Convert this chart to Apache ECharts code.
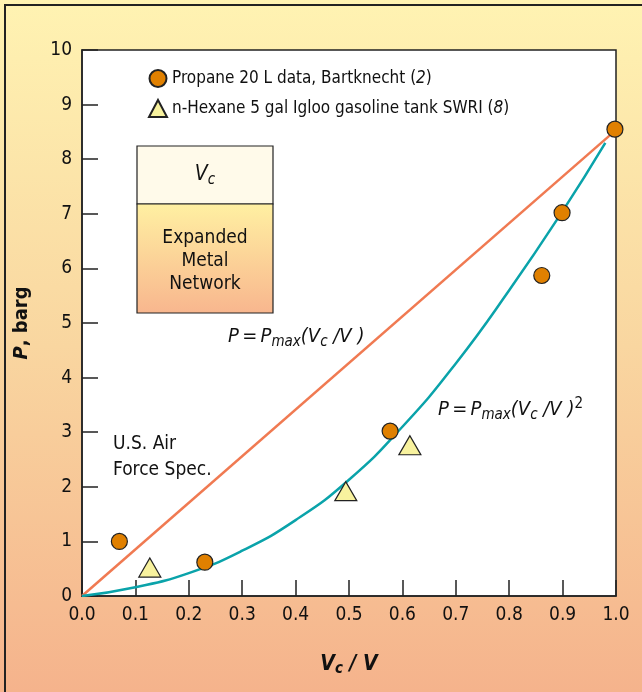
<!DOCTYPE html>
<html>
<head>
<meta charset="utf-8">
<script src="https://cdn.jsdelivr.net/npm/echarts@6/dist/echarts.min.js"></script>
<style>
    html, body { margin: 0; padding: 0; }
    #chart { width: 642px; height: 692px; }
</style>
</head>
<body>
<div id="chart"></div>
<script>
// tick labels
var xTicks = ['0.0', '0.1', '0.2', '0.3', '0.4', '0.5', '0.6', '0.7', '0.8', '0.9', '1.0'];
var yTicks = [0, 1, 2, 3, 4, 5, 6, 7, 8, 9, 10];

// Propane 20 L data, Bartknecht
var propane = [[0.07, 1.0], [0.23, 0.62], [0.577, 3.02], [0.861, 5.87], [0.899, 7.02], [0.998, 8.55]];
// n-Hexane 5 gal Igloo gasoline tank SWRI
var hexane = [[0.127, 0.52], [0.494, 1.92], [0.614, 2.76]];
// P = Pmax (Vc/V)
var linearLine = [[0, 0], [0.99, 8.45]];
// P = Pmax (Vc/V)^2, drawn curve
var squareCurve = [[0, 0], [0.1, 0.16], [0.2, 0.42], [0.3, 0.83], [0.4, 1.39], [0.5, 2.13],
    [0.6, 3.1], [0.7, 4.26], [0.8, 5.6], [0.9, 7.05], [0.98, 8.3]];

var font = "'Liberation Sans Narrow', 'DejaVu Sans Condensed', 'Roboto', sans-serif";

var chart = echarts.init(document.getElementById('chart'));

var option = {
    animation: false,
    backgroundColor: {
        type: 'linear', x: 0, y: 0, x2: 0, y2: 1,
        colorStops: [
            {offset: 0, color: '#fff3b2'},
            {offset: 0.5, color: '#f9d6a0'},
            {offset: 1, color: '#f5b38c'}
        ]
    },
    textStyle: {fontFamily: font},
    grid: {
        left: 82, right: 26, top: 50, bottom: 96,
        show: true,
        backgroundColor: '#fff',
        borderColor: '#222',
        borderWidth: 1.5
    },
    legend: {
        orient: 'vertical',
        left: 143,
        top: 64,
        itemGap: 11,
        itemWidth: 18,
        itemHeight: 17,
        textStyle: {
            fontFamily: font,
            fontSize: 17,
            color: '#111',
            rich: {
                a: {fontFamily: font, fontSize: 17, color: '#111'},
                i: {fontFamily: font, fontSize: 17, color: '#111', fontStyle: 'italic'}
            }
        },
        formatter: function (name) {
            if (name === 'propane') {
                return '{a|Propane 20 L data, Bartknecht (}{i|2}{a|)}';
            }
            return '{a|n-Hexane 5 gal Igloo gasoline tank SWRI (}{i|8}{a|)}';
        },
        data: ['propane', 'hexane']
    },
    xAxis: {
        type: 'value',
        min: 0,
        max: 1,
        interval: 0.1,
        name: '{b|V}{s|c}{b| / V}',
        nameLocation: 'middle',
        nameGap: 56,
        nameTextStyle: {
            rich: {
                b: {fontFamily: font, fontSize: 21, fontWeight: 'bold', fontStyle: 'italic', color: '#111'},
                s: {fontFamily: font, fontSize: 15, fontWeight: 'bold', fontStyle: 'italic', color: '#111', padding: [10, 0, 0, 0]}
            }
        },
        axisLine: {show: true, lineStyle: {color: '#222', width: 1.5}},
        axisTick: {show: true, inside: true, length: 16, lineStyle: {color: '#222', width: 1.5}},
        axisLabel: {
            fontFamily: font, fontSize: 19, color: '#111', margin: 10,
            formatter: function (v) { return xTicks[Math.round(v * 10)]; }
        },
        splitLine: {show: false}
    },
    yAxis: {
        type: 'value',
        min: 0,
        max: 10,
        interval: 1,
        name: '{b|P}{n|, barg}',
        nameLocation: 'middle',
        nameRotate: 90,
        nameGap: 50,
        nameTextStyle: {
            rich: {
                b: {fontFamily: font, fontSize: 20, fontWeight: 'bold', fontStyle: 'italic', color: '#111'},
                n: {fontFamily: font, fontSize: 20, fontWeight: 'bold', color: '#111'}
            }
        },
        axisLine: {show: true, lineStyle: {color: '#222', width: 1.5}},
        axisTick: {show: true, inside: true, length: 16, lineStyle: {color: '#222', width: 1.5}},
        axisLabel: {
            fontFamily: font, fontSize: 19, color: '#111', margin: 10,
            formatter: function (v) { return String(yTicks[Math.round(v)]); }
        },
        splitLine: {show: false}
    },
    series: [{
        name: 'linear',
        type: 'line',
        data: linearLine,
        showSymbol: false,
        lineStyle: {color: '#f07a52', width: 2.5},
        z: 2
    }, {
        name: 'square',
        type: 'line',
        data: squareCurve,
        smooth: true,
        showSymbol: false,
        lineStyle: {color: '#0aa3aa', width: 2.5},
        z: 2
    }, {
        name: 'propane',
        type: 'scatter',
        data: propane,
        symbol: 'circle',
        symbolSize: 16,
        itemStyle: {color: '#e08000', borderColor: '#222', borderWidth: 1.2, opacity: 1},
        z: 4
    }, {
        name: 'hexane',
        type: 'scatter',
        data: hexane,
        symbol: 'triangle',
        symbolSize: [22, 19],
        itemStyle: {color: '#f8f29e', borderColor: '#222', borderWidth: 1.2, opacity: 1},
        z: 4
    }],
    graphic: [{
        type: 'polyline',
        shape: {points: [[5, 692], [5, 5], [642, 5]]},
        style: {stroke: '#222', lineWidth: 2, fill: null},
        z: 10
    }, {
        type: 'rect',
        shape: {x: 137, y: 146, width: 136, height: 58},
        style: {fill: '#fffaea', stroke: '#222', lineWidth: 1.2},
        z: 10
    }, {
        type: 'rect',
        shape: {x: 137, y: 204, width: 136, height: 109},
        style: {
            fill: {
                type: 'linear', x: 0, y: 0, x2: 0, y2: 1,
                colorStops: [{offset: 0, color: '#fff0a2'}, {offset: 1, color: '#f8b68e'}]
            },
            stroke: '#222', lineWidth: 1.2
        },
        z: 10
    }, {
        type: 'text',
        x: 205, y: 175,
        style: {
            text: '{i|V}{s|c}',
            align: 'center', verticalAlign: 'middle',
            rich: {
                i: {fontFamily: font, fontSize: 21, fontStyle: 'italic', fill: '#111'},
                s: {fontFamily: font, fontSize: 15, fontStyle: 'italic', fill: '#111', padding: [10, 0, 0, 0]}
            }
        },
        z: 11
    }, {
        type: 'text',
        x: 205, y: 261,
        style: {
            text: 'Expanded\nMetal\nNetwork',
            align: 'center', verticalAlign: 'middle',
            fontFamily: font, fontSize: 19, lineHeight: 23, fill: '#111'
        },
        z: 11
    }, {
        type: 'text',
        x: 228, y: 337,
        style: {
            text: '{i|P} {n|=} {i|P}{s|max}{i|(V}{s|c}{i| /V )}',
            align: 'left', verticalAlign: 'middle',
            rich: {
                i: {fontFamily: font, fontSize: 20, fontStyle: 'italic', fill: '#111'},
                n: {fontFamily: font, fontSize: 20, fill: '#111'},
                s: {fontFamily: font, fontSize: 15, fontStyle: 'italic', fill: '#111', padding: [11, 0, 0, 0]}
            }
        },
        z: 11
    }, {
        type: 'text',
        x: 438, y: 410,
        style: {
            text: '{i|P} {n|=} {i|P}{s|max}{i|(V}{s|c}{i| /V )}{p|2}',
            align: 'left', verticalAlign: 'middle',
            rich: {
                i: {fontFamily: font, fontSize: 20, fontStyle: 'italic', fill: '#111'},
                n: {fontFamily: font, fontSize: 20, fill: '#111'},
                s: {fontFamily: font, fontSize: 15, fontStyle: 'italic', fill: '#111', padding: [11, 0, 0, 0]},
                p: {fontFamily: font, fontSize: 15, fill: '#111', padding: [0, 0, 11, 0]}
            }
        },
        z: 11
    }, {
        type: 'text',
        x: 113, y: 457,
        style: {
            text: 'U.S. Air\nForce Spec.',
            align: 'left', verticalAlign: 'middle',
            fontFamily: font, fontSize: 19, lineHeight: 26, fill: '#111'
        },
        z: 11
    }]
};

chart.setOption(option);
</script>
</body>
</html>
